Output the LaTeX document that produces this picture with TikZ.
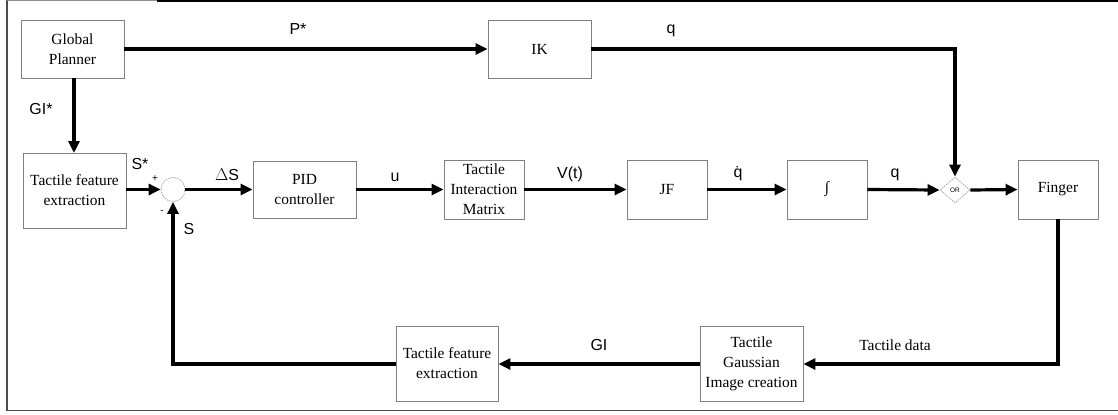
\documentclass[tikz,border=0pt]{standalone}
\usepackage{fontspec}
\setmainfont{Liberation Serif}
\setsansfont{Liberation Sans}
\usetikzlibrary{arrows.meta,shapes.geometric}
\tikzset{
  blk/.style={draw=black!50, line width=0.9bp, fill=white, align=center, inner sep=0pt,
    font=\fontsize{15.5}{20}\selectfont},
  conn/.style={line width=3.2bp, -{Triangle[length=12bp,width=11bp]}},
  lbl/.style={font=\sffamily\fontsize{16}{18}\selectfont, inner sep=0pt},
  sgn/.style={font=\sffamily\fontsize{10}{12}\selectfont, inner sep=0pt}
}
\begin{document}
\begin{tikzpicture}[x=1bp,y=-1bp]
\useasboundingbox (0,0) rectangle (1118,414);
% frame
\draw[line width=1.3bp, black!70] (7,0) -- (7,410.5) -- (1118,410.5);
\draw[line width=1.3bp, black!45] (7,0.7) -- (157,0.7);
\draw[line width=2bp, black] (157,1) -- (1118,1);

% blocks
\node[blk, minimum width=103bp, minimum height=58bp] (gp) at (72.5,49) {Global\\Planner};
\node[blk, minimum width=103bp, minimum height=58bp] (ik) at (539.5,49) {IK};
\node[blk, minimum width=103bp, minimum height=75bp] (tfe1) at (74.5,190.5) {Tactile feature\\extraction};
\node[draw=black!35, dash pattern=on 1.5bp off 1bp, line width=0.8bp, circle, minimum size=24bp, inner sep=0pt] (sum) at (173,189.5) {};
\node[blk, minimum width=103bp, minimum height=57bp] (pid) at (304.5,189.5) {PID\\controller};
\node[blk, minimum width=80bp, minimum height=59bp] (tim) at (484,189.5) {Tactile\\Interaction\\Matrix};
\node[blk, minimum width=80bp, minimum height=59bp] (jf) at (667,189.5) {JF};
\node[blk, minimum width=80bp, minimum height=59bp] (int) at (827,189.5) {∫};
\node[draw=black!35, dash pattern=on 1.5bp off 1bp, line width=0.8bp, diamond, minimum width=30bp, minimum height=26bp, inner sep=0pt, font=\sffamily\fontsize{6.5}{7}\selectfont] (or) at (955,190) {OR};
\node[blk, minimum width=80bp, minimum height=59bp] (fin) at (1058,189.5) {Finger};
\node[blk, minimum width=103bp, minimum height=75bp] (tgic) at (751.5,363.5) {Tactile\\Gaussian\\Image creation};
\node[blk, minimum width=102bp, minimum height=75bp] (tfe2) at (447,363.5) {Tactile feature\\extraction};

% corner coordinates
\coordinate (c1) at (955,49);
\coordinate (c2) at (1058,364);
\coordinate (c3) at (173,364);

% connectors
\draw[conn] (gp.east) -- (ik.west);
\draw[conn] (ik.east) -- (c1) -- (or.north);
\draw[conn] (74,78) -- (74,153);
\draw[conn] (tfe1.east |- sum.west) -- (sum.west);
\draw[conn] (sum.east) -- (pid.west);
\draw[conn] (pid.east) -- (tim.west);
\draw[conn] (tim.east) -- (jf.west);
\draw[conn] (jf.east) -- (int.west);
\draw[conn] (int.east) -- (or.west);
\draw[conn] (or.east) -- (fin.west);
\draw[conn] (fin.south) -- (c2) -- (tgic.east |- c2);
\draw[conn] (tgic.west |- c2) -- (tfe2.east |- c2);
\draw[conn] (tfe2.west |- c3) -- (c3) -- (sum.south);

% labels
\node[lbl] (lp) at (298,29) {P*};
\node[lbl] (lq1) at (671,31) {q};
\node[lbl] (lgi) at (41,109) {GI*};
\node[lbl] (lss) at (140,164) {S*};
\node[sgn] (lplus) at (155,179) {+};
\node[sgn] (lminus) at (162,212) {-};
\node[lbl] (lds) at (227,175) {{\rmfamily$\Delta$}S};
\node[lbl] (ls) at (189,229) {S};
\node[lbl] (lu) at (395,177) {u};
\node[lbl] (lv) at (570,174) {V(t)};
\node[lbl] (lqd) at (738,174) {\.{q}};
\node[lbl] (lq2) at (895,175) {q};
\node[lbl] (lgi2) at (599,345) {GI};
\node[inner sep=0pt, font=\fontsize{15.5}{18}\selectfont] (ltd) at (895,345) {Tactile data};
\end{tikzpicture}
\end{document}
